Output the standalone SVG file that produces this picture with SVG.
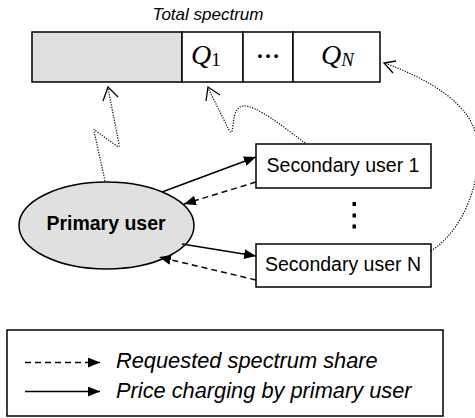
<svg xmlns="http://www.w3.org/2000/svg" width="475" height="418" viewBox="0 0 475 418">
  <style>
    .box { fill: #ffffff; stroke: #000000; stroke-width: 1.5; }
    .shade { fill: #e0e0e0; stroke: #000000; stroke-width: 1.5; }
    .label { font-family: "Liberation Sans", Arial, sans-serif; font-size: 19.5px; fill: #000; }
    .bold { font-weight: bold; }
    .ital { font-family: "Liberation Sans", Arial, sans-serif; font-style: italic; fill: #000; }
    .math { font-family: "Liberation Serif", "Times New Roman", serif; fill: #000; }
    .solid { fill: none; stroke: #000; stroke-width: 1.5; }
    .dashed { fill: none; stroke: #000; stroke-width: 1.5; stroke-dasharray: 6 4; }
    .dotted { fill: none; stroke: #000; stroke-width: 1.2; stroke-dasharray: 1.2 1.4; }
    .openhead { fill: none; stroke: #000; stroke-width: 1.3; }
  </style>
  <defs>
    <marker id="tri" viewBox="0 0 12 10" refX="12" refY="5" markerWidth="12" markerHeight="10" markerUnits="userSpaceOnUse" orient="auto">
      <path d="M0,0 L12,5 L0,10 Z" fill="#000"/>
    </marker>
  </defs>

  <!-- spectrum bar -->
  <g id="spectrum">
    <text class="ital" x="208" y="20" font-size="17" text-anchor="middle">Total spectrum</text>
    <rect class="shade" x="32" y="32" width="150" height="50"/>
    <rect class="box" x="182" y="32" width="61" height="50"/>
    <rect class="box" x="243" y="32" width="50" height="50"/>
    <rect class="box" x="293" y="32" width="87" height="50"/>
    <text class="math" x="191" y="64"><tspan font-style="italic" font-size="28">Q</tspan><tspan font-size="19" dy="2">1</tspan></text>
    <text class="math" x="268" y="58" font-size="24" font-weight="bold" text-anchor="middle">…</text>
    <text class="math" x="321" y="64" font-style="italic"><tspan font-size="28">Q</tspan><tspan font-size="19" dy="2">N</tspan></text>
  </g>

  <!-- primary user -->
  <g id="primary">
    <ellipse class="shade" cx="106.5" cy="225.5" rx="87.5" ry="43.5"/>
    <text class="label bold" x="106" y="230" text-anchor="middle">Primary user</text>
  </g>

  <!-- secondary users -->
  <g id="secondary1">
    <rect class="box" x="256" y="144" width="175" height="44"/>
    <text class="label" x="343" y="172" text-anchor="middle">Secondary user 1</text>
  </g>
  <g id="ellipsis">
    <rect x="352.5" y="202" width="3.5" height="4" fill="#000"/>
    <rect x="352.5" y="213.5" width="3.5" height="4" fill="#000"/>
    <rect x="352.5" y="224.5" width="3.5" height="4" fill="#000"/>
  </g>
  <g id="secondaryN">
    <rect class="box" x="256" y="244" width="175" height="43"/>
    <text class="label" x="343" y="271" text-anchor="middle">Secondary user N</text>
  </g>

  <!-- connectors -->
  <g id="connectors">
    <path class="solid" d="M162,192 L256,157" marker-end="url(#tri)"/>
    <path class="dashed" d="M256,182 L184,204" marker-end="url(#tri)"/>
    <path class="solid" d="M182,244 L256,256" marker-end="url(#tri)"/>
    <path class="dashed" d="M256,280 L159,257" marker-end="url(#tri)"/>

    <!-- spectrum usage links -->
    <path class="dotted" d="M105,181 L94,131 Q93,128 96,131 L117,146 Q120,148 119,144 L108,88"/>
    <path class="openhead" d="M103,101 L108,87 L118,97"/>

    <path class="dotted" d="M305,143 C285,128 255,104 243,106 C233,108 234,122 232,131 Q231,134 229,130 L208,88"/>
    <path class="openhead" d="M206,101 L208,87 L220,95"/>

    <path class="dotted" d="M431,251 C466,228 482,178 477,140 C472,104 430,80 385,63"/>
    <path class="openhead" d="M396,61 L384,63 L393,73"/>
  </g>

  <!-- legend -->
  <g id="legend">
    <rect class="box" x="7" y="330" width="436" height="86"/>
    <path class="dashed" d="M25,362.5 L100,362.5" stroke-dasharray="5 4" marker-end="url(#tri)"/>
    <text class="ital" x="116" y="368" font-size="21.8">Requested spectrum share</text>
    <path class="solid" d="M25,391.5 L100,391.5" marker-end="url(#tri)"/>
    <text class="ital" x="116" y="398" font-size="21.8">Price charging by primary user</text>
  </g>
</svg>
